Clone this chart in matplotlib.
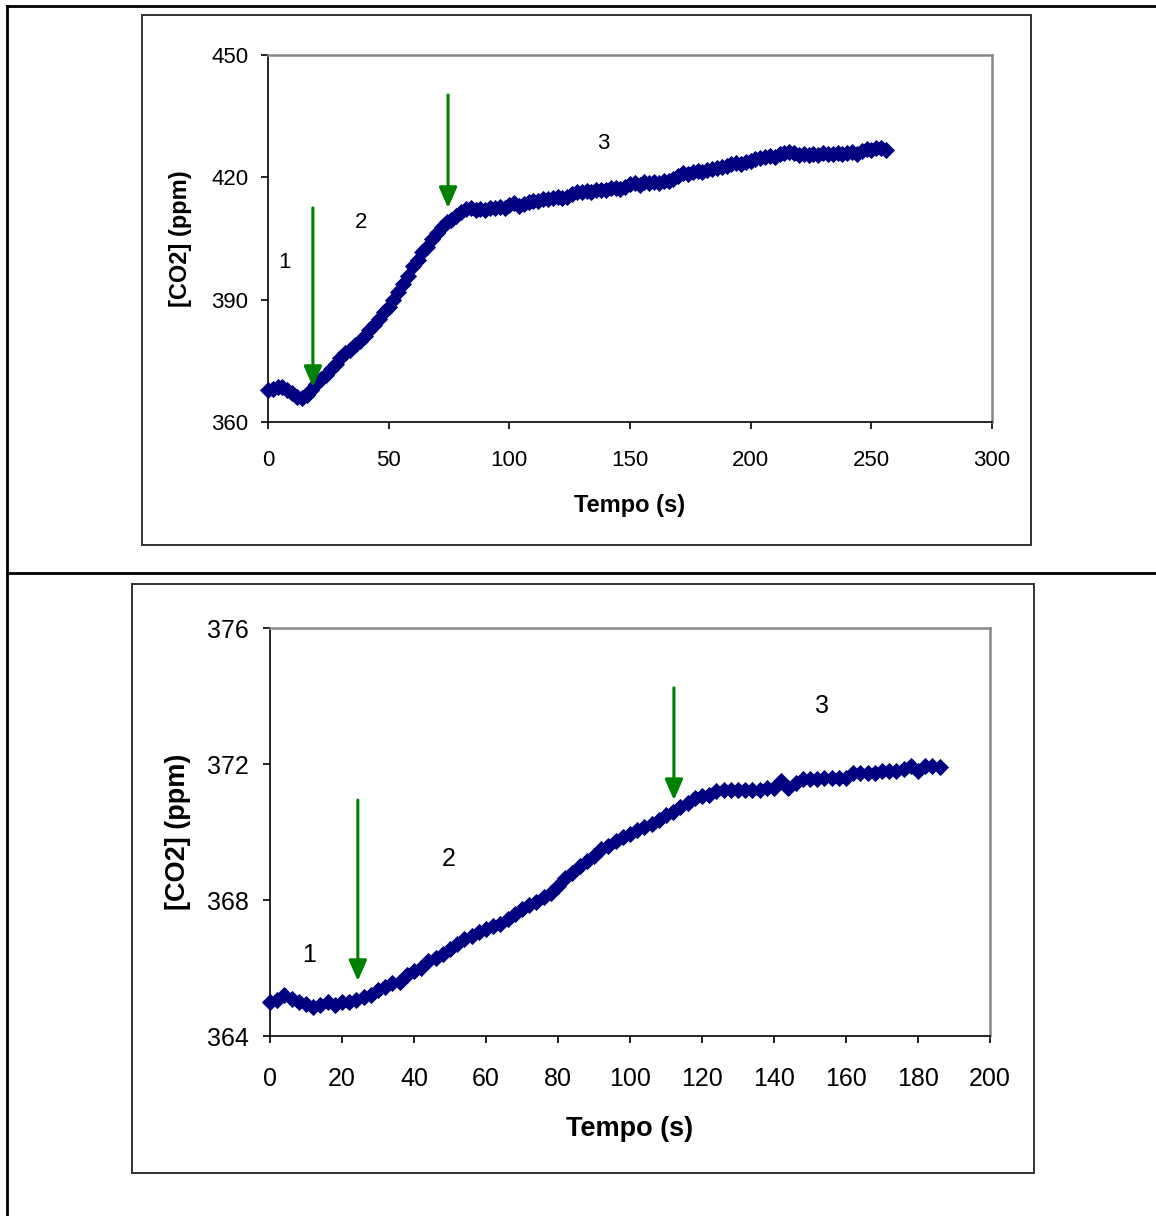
import numpy as np
import matplotlib
matplotlib.use("Agg")
import matplotlib.pyplot as plt
from matplotlib.lines import Line2D
from matplotlib.patches import Rectangle

plt.rcParams['font.family'] = ['Liberation Sans', 'DejaVu Sans']

# ---- Run A: CO2 concentration, one reading every 2 s ----
time_a = np.arange(0, 258, 2)
co2_a = [
    367.9, 368.1, 368.6, 368.5, 367.8, 367.0, 366.2, 365.9, 366.6, 367.8,
    369.2, 370.5, 371.6, 373.0, 374.2, 375.8, 377.0, 377.6, 378.9, 379.9,
    381.0, 382.6, 383.8, 385.2, 386.9, 388.3, 389.9, 391.8, 393.9, 395.8,
    398.2, 399.8, 401.6, 403.0, 404.9, 406.4, 407.8, 409.0, 409.6, 410.6,
    411.5, 412.2, 412.4, 412.0, 412.3, 411.9, 412.4, 412.6, 412.8, 412.6,
    413.2, 413.6, 413.0, 413.4, 414.0, 414.3, 414.1, 414.6, 414.8, 414.9,
    415.2, 415.0, 415.1, 415.9, 416.5, 416.3, 416.7, 416.4, 416.9, 417.0,
    416.8, 417.3, 417.4, 417.1, 417.7, 418.3, 418.6, 418.2, 418.8, 418.6,
    418.9, 418.5, 419.1, 419.0, 419.6, 420.4, 421.0, 420.7, 421.2, 421.6,
    421.4, 421.9, 422.1, 422.4, 422.6, 422.9, 423.2, 423.5, 423.3, 423.8,
    424.1, 424.5, 424.8, 425.0, 425.3, 425.1, 425.6, 426.0, 426.3, 425.9,
    425.5, 425.8, 425.4, 425.7, 425.5, 425.9, 425.6, 425.8, 426.0, 425.7,
    425.9, 426.2, 425.8, 426.4, 427.0, 426.6, 427.1, 427.2, 426.8,
]
xticks_a = [0, 50, 100, 150, 200, 250, 300]
yticks_a = [360, 390, 420, 450]
phase_labels_a = [("1", 7.0, 399.0), ("2", 38.5, 409.0), ("3", 138.8, 428.4)]
arrows_a = [(18.6, 412.5, 368.6), (74.6, 440.2, 412.5)]  # x, start, tip

# ---- Run B: CO2 concentration, one reading every 2 s ----
time_b = np.arange(0, 188, 2)
co2_b = [
    365.0, 365.05, 365.2, 365.1, 365.0, 364.95, 364.85, 364.9, 365.0, 364.9,
    365.0, 365.0, 365.05, 365.15, 365.2, 365.35, 365.45, 365.55, 365.6, 365.8,
    365.9, 366.0, 366.2, 366.3, 366.4, 366.55, 366.7, 366.85, 366.95, 367.05,
    367.15, 367.25, 367.3, 367.45, 367.6, 367.75, 367.85, 367.95, 368.1, 368.2,
    368.4, 368.65, 368.8, 369.0, 369.15, 369.3, 369.5, 369.6, 369.75, 369.85,
    369.95, 370.05, 370.15, 370.25, 370.35, 370.5, 370.6, 370.75, 370.85, 371.0,
    371.05, 371.1, 371.2, 371.25, 371.25, 371.25, 371.25, 371.25, 371.25, 371.3,
    371.3, 371.5, 371.3, 371.45, 371.55, 371.55, 371.55, 371.6, 371.6, 371.6,
    371.6, 371.75, 371.75, 371.75, 371.75, 371.8, 371.8, 371.8, 371.85, 371.95,
    371.8, 371.95, 371.95, 371.9,
]
xticks_b = [0, 20, 40, 60, 80, 100, 120, 140, 160, 180, 200]
yticks_b = [364, 368, 372, 376]
phase_labels_b = [("1", 10.8, 366.38), ("2", 49.7, 369.2), ("3", 153.3, 373.7)]
arrows_b = [(24.4, 370.94, 365.62), (112.2, 374.24, 370.94)]

W, H = 1156, 1216
fig = plt.figure(figsize=(W / 100, H / 100), dpi=100)


def fx(px):
    return px / W


def fy(py):
    return 1 - py / H


def add_line(x0, y0, x1, y1, **kw):
    fig.add_artist(Line2D([fx(x0), fx(x1)], [fy(y0), fy(y1)],
                          transform=fig.transFigure, **kw))


def add_frame(x0, y0, x1, y1):
    fig.add_artist(Rectangle((fx(x0), fy(y1)), fx(x1) - fx(x0), fy(y0) - fy(y1),
                             transform=fig.transFigure, fill=False,
                             edgecolor='#333333', lw=1.4))


# table rules
add_line(7, 6, 1156, 6, color='black', lw=2)
add_line(7, 6, 7, 1216, color='black', lw=2)
add_line(7, 573, 1156, 573, color='black', lw=2)

add_frame(142, 15, 1031, 545)
add_frame(132, 584, 1034, 1173)


def make_panel(box, t, c, xlim, ylim, xticks, yticks, labels, arrows,
               fs_tick, fs_title, xpad, ypad, xlabel_pad, ylabel_pad):
    x0, y0, x1, y1 = box
    ax = fig.add_axes([fx(x0), fy(y1), fx(x1) - fx(x0), fy(y0) - fy(y1)])
    ax.plot(t, c, linestyle='none', marker='D', markersize=7.8,
            color='#000080', markeredgewidth=0.6, clip_on=False, zorder=3)
    ax.set_xlim(*xlim)
    ax.set_ylim(*ylim)
    ax.set_xticks(xticks)
    ax.set_yticks(yticks)
    for s in ('top', 'right'):
        ax.spines[s].set_color('#888888')
        ax.spines[s].set_linewidth(1.8)
    for s in ('left', 'bottom'):
        ax.spines[s].set_color('black')
        ax.spines[s].set_linewidth(1.2)
    ax.tick_params(axis='x', direction='out', length=5, width=1.2,
                   labelsize=fs_tick, pad=xpad)
    ax.tick_params(axis='y', direction='out', length=5, width=1.2,
                   labelsize=fs_tick, pad=ypad)
    ax.set_xlabel('Tempo (s)', fontsize=fs_title, fontweight='bold',
                  labelpad=xlabel_pad)
    ax.set_ylabel('[CO2] (ppm)', fontsize=fs_title, fontweight='bold',
                  labelpad=ylabel_pad)
    for txt, lx, ly in labels:
        ax.text(lx, ly, txt, fontsize=fs_tick, ha='center', va='center')
    for ax_x, start, tip in arrows:
        ax.annotate('', xy=(ax_x, tip), xytext=(ax_x, start),
                    arrowprops=dict(arrowstyle='-|>,head_length=0.5,head_width=0.22',
                                    color='#008000', lw=2.2, mutation_scale=25,
                                    shrinkA=0, shrinkB=0), zorder=4)
    return ax


make_panel((268, 55, 992, 422), time_a, co2_a, (0, 300), (360, 450),
           xticks_a, yticks_a, phase_labels_a, arrows_a,
           fs_tick=16, fs_title=17, xpad=15.5, ypad=9,
           xlabel_pad=16, ylabel_pad=14)

make_panel((270, 628, 990, 1036), time_b, co2_b, (0, 200), (364, 376),
           xticks_b, yticks_b, phase_labels_b, arrows_b,
           fs_tick=18, fs_title=19.5, xpad=17, ypad=10,
           xlabel_pad=18, ylabel_pad=12)

fig.savefig('out.png', dpi=100)
